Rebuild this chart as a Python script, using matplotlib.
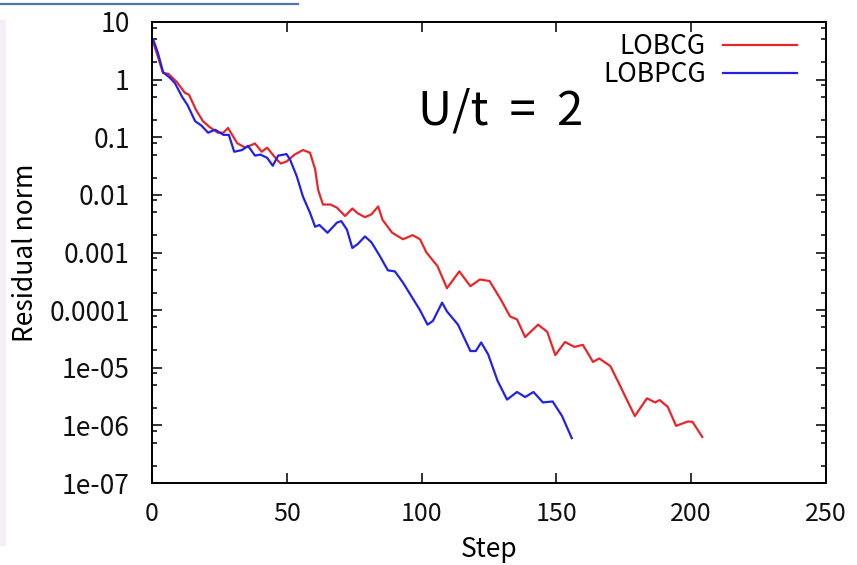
import matplotlib
matplotlib.use("Agg")
import matplotlib.pyplot as plt
from matplotlib.lines import Line2D
from matplotlib.patches import Rectangle
from matplotlib.ticker import LogLocator, NullFormatter

plt.rcParams['font.family'] = ['Noto Sans CJK JP', 'DejaVu Sans']

# LOBCG residual norm vs step
lobcg_step = [0, 4.1, 6.1, 9.2, 12.2, 13.7, 16.3, 18.9, 21.4, 24.4, 26.5, 28.2, 31.6,
              34.6, 38.2, 40.7, 42.7, 46.3, 47.8, 49.9, 52.9, 56, 58.6, 60.5, 61.6,
              63.4, 66.2, 68.6, 71.6, 74.3, 76.3, 79, 81.4, 83.9, 85.5, 89.1, 93.1,
              96.7, 99.4, 101.8, 105.9, 109.4, 114, 118.1, 121.6, 125.2, 129.3, 132.8,
              135.4, 138.4, 143.2, 146.6, 149.6, 153.2, 156.7, 159.8, 163.6, 165.9,
              170, 173, 175.5, 179.1, 183.6, 186.6, 188.3, 191.3, 194.4, 198.8, 200.5,
              204.1]
lobcg_res = [5.2, 1.3, 1.26, 0.91, 0.59, 0.55, 0.30, 0.19, 0.15, 0.12, 0.12, 0.145,
             0.079, 0.066, 0.078, 0.056, 0.066, 0.041, 0.035, 0.038, 0.050, 0.060,
             0.054, 0.028, 0.0123, 0.0068, 0.0068, 0.0060, 0.0043, 0.0058, 0.0048,
             0.0041, 0.0046, 0.0063, 0.0037, 0.0022, 0.0017, 0.0020, 0.0017, 0.0010,
             5.8e-4, 2.4e-4, 4.7e-4, 2.6e-4, 3.4e-4, 3.2e-4, 1.55e-4, 7.8e-5, 6.9e-5,
             3.4e-5, 5.6e-5, 4.2e-5, 1.66e-5, 2.8e-5, 2.3e-5, 2.5e-5, 1.26e-5,
             1.45e-5, 1.07e-5, 5.6e-6, 3.2e-6, 1.45e-6, 2.95e-6, 2.5e-6, 2.75e-6,
             2.1e-6, 9.8e-7, 1.17e-6, 1.15e-6, 6.3e-7]

# LOBPCG residual norm vs step
lobpcg_step = [0.5, 2.2, 4.1, 6.7, 8.5, 11.2, 13.2, 16, 18.3, 20.8, 23.4, 26.5, 28.5,
               30.5, 33.4, 35.6, 38.2, 40.2, 42.7, 44.8, 46.8, 49.9, 51.2, 53.7, 56,
               58.6, 60.5, 62.1, 65.1, 68.6, 70.2, 72.3, 74.3, 76.3, 79, 81.4, 84.5,
               87.5, 90.1, 93.1, 96.7, 99.4, 102.2, 104.2, 107.6, 109.4, 113.5, 118.1,
               120.1, 122.1, 124.7, 128.2, 131.7, 135.4, 138.4, 141.5, 145, 148.6,
               152.1, 155.7]
lobpcg_res = [4.9, 2.9, 1.35, 1.07, 0.87, 0.50, 0.36, 0.19, 0.16, 0.12, 0.135, 0.11,
              0.11, 0.056, 0.060, 0.071, 0.048, 0.050, 0.044, 0.032, 0.048, 0.051,
              0.041, 0.021, 0.0093, 0.0049, 0.0028, 0.0030, 0.0022, 0.0033, 0.0035,
              0.0025, 0.0012, 0.0014, 0.0019, 0.0015, 8.7e-4, 4.9e-4, 4.7e-4, 3.0e-4,
              1.6e-4, 1.0e-4, 5.6e-5, 6.5e-5, 1.35e-4, 9.5e-5, 5.6e-5, 1.95e-5,
              1.95e-5, 2.75e-5, 1.7e-5, 5.9e-6, 2.8e-6, 3.8e-6, 3.1e-6, 3.8e-6,
              2.5e-6, 2.6e-6, 1.45e-6, 6.0e-7]

xticks = [0, 50, 100, 150, 200, 250]
yticks = [1e-7, 1e-6, 1e-5, 1e-4, 1e-3, 1e-2, 1e-1, 1, 10]
ytick_labels = ['1e-07', '1e-06', '1e-05', '0.0001', '0.001', '0.01', '0.1', '1', '10']

fs = 19
fig = plt.figure(figsize=(8.57, 5.65), dpi=100)
ax = fig.add_axes([152/857, 1-483/565, 674/857, 461/565])

ax.plot(lobcg_step, lobcg_res, color='#e8262a', lw=1.6, label='LOBCG',
        solid_joinstyle='round')
ax.plot(lobpcg_step, lobpcg_res, color='#2222e6', lw=1.6, label='LOBPCG',
        solid_joinstyle='round')

ax.set_yscale('log')
ax.set_xlim(0, 250)
ax.set_ylim(1e-7, 10)
ax.set_xticks(xticks)
ax.set_xticklabels([str(v) for v in xticks])
ax.set_yticks(yticks)
ax.set_yticklabels(ytick_labels)
ax.yaxis.set_minor_locator(LogLocator(base=10, subs=(2, 5, 8), numticks=20))
ax.yaxis.set_minor_formatter(NullFormatter())

for s in ax.spines.values():
    s.set_linewidth(1.4)
ax.tick_params(which='both', direction='in', top=True, right=True, width=1.2,
               labelsize=fs, colors='#111111')
ax.tick_params(axis='y', which='major', length=7, pad=16)
ax.tick_params(axis='x', which='major', length=7, pad=13, labelsize=18)
ax.tick_params(axis='y', which='minor', length=3.6)

ax.set_ylabel('Residual norm', fontsize=fs)
ax.yaxis.set_label_coords(-0.168, 0.5)
ax.set_xlabel('Step', fontsize=fs)
ax.xaxis.set_label_coords(0.5, -0.116)

ax.legend(loc='upper right', bbox_to_anchor=(0.957, 0.976), frameon=False,
          markerfirst=False, fontsize=fs, handlelength=2.8, handletextpad=0.65,
          labelspacing=0.05, borderpad=0, borderaxespad=0)

ax.text(0.395, 0.777, 'U/t  =  2', transform=ax.transAxes, fontsize=34,
        va='baseline', ha='left')

# screenshot frame remnants
fig.add_artist(Line2D([0, 298/857], [1-3.5/565, 1-3.5/565], color='#4a78ad',
                      lw=1.6, transform=fig.transFigure))
fig.add_artist(Rectangle((0, 20/565), 5/857, 525/565, color='#f3eef5',
                         transform=fig.transFigure, zorder=0))

fig.savefig('out.png', dpi=100)
